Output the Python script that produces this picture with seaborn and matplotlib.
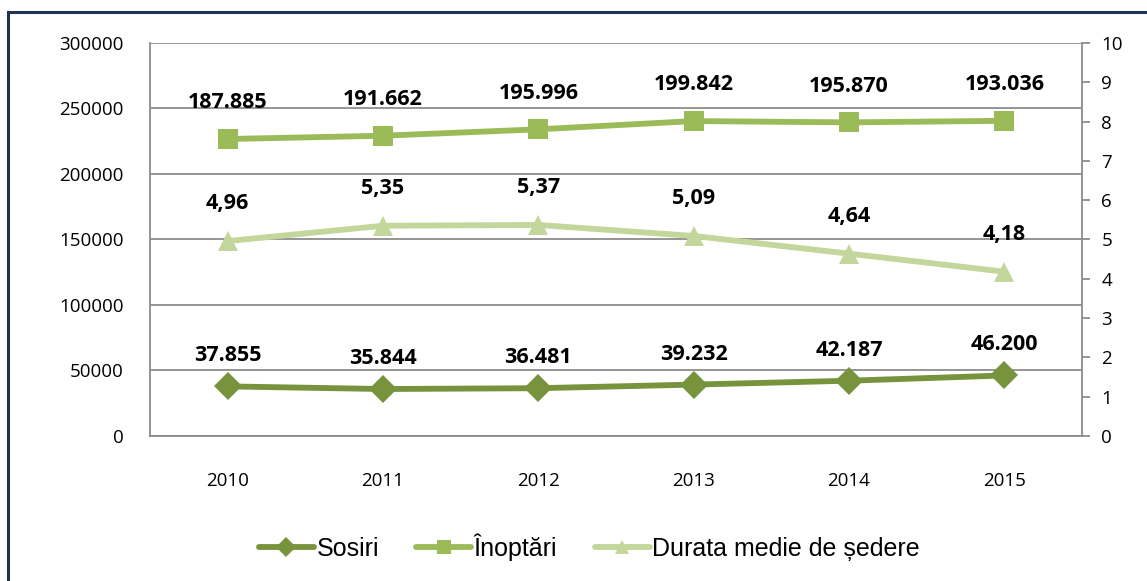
import seaborn as sns
import matplotlib.pyplot as plt
from matplotlib.patches import Rectangle

years = ['2010', '2011', '2012', '2013', '2014', '2015']
sosiri = [37855, 35844, 36481, 39232, 42187, 46200]
sosiri_labels = ['37.855', '35.844', '36.481', '39.232', '42.187', '46.200']
inoptari = [226700, 229200, 234100, 240400, 239400, 240600]
inoptari_labels = ['187.885', '191.662', '195.996', '199.842', '195.870', '193.036']
durata = [4.96, 5.35, 5.37, 5.09, 4.64, 4.18]
durata_labels = ['4,96', '5,35', '5,37', '5,09', '4,64', '4,18']

sns.set_style('white')
plt.rcParams['font.family'] = ['Open Sans', 'DejaVu Sans']
plt.rcParams['text.color'] = 'black'

c_sos = '#77933C'
c_ino = '#9BBB59'
c_dur = '#C3D69B'
grid_c = '#8C8C8C'

fig = plt.figure(figsize=(11.47, 5.81), dpi=100)
ax = fig.add_axes([0.1308, 0.2496, 0.8125, 0.6764])
ax2 = ax.twinx()

sns.lineplot(x=years, y=sosiri, ax=ax, color=c_sos, linewidth=4.2, marker='D',
             markersize=14, markeredgewidth=0, label='Sosiri', sort=False)
sns.lineplot(x=years, y=inoptari, ax=ax, color=c_ino, linewidth=4.2, marker='s',
             markersize=15, markeredgewidth=0, label='Înoptări', sort=False)
sns.lineplot(x=years, y=durata, ax=ax2, color=c_dur, linewidth=4.2, marker='^',
             markersize=15, markeredgewidth=0, label='Durata medie de ședere', sort=False)

ax.set_xlim(-0.5, 5.5)
ax.set_ylim(0, 300000)
ax.set_yticks(range(0, 300001, 50000))
ax2.set_ylim(0, 10)
ax2.set_yticks(range(0, 11))

ax.grid(axis='y', color=grid_c, linewidth=1.3)
ax.grid(axis='x', visible=False)
ax2.grid(False)

for a in (ax, ax2):
    for s in a.spines.values():
        s.set_visible(False)
ax.spines['left'].set_visible(True)
ax.spines['bottom'].set_visible(True)
ax2.spines['right'].set_visible(True)
for s in (ax.spines['left'], ax.spines['bottom'], ax2.spines['right']):
    s.set_color(grid_c)
    s.set_linewidth(1.3)

ax.tick_params(axis='y', length=0, pad=19, labelsize=13.5, labelcolor='black')
ax.tick_params(axis='x', length=0, pad=26, labelsize=13.5, labelcolor='black')
ax2.tick_params(axis='y', length=6, width=1.3, color=grid_c, pad=8, labelsize=13.5,
                labelcolor='black')
ax.set_xlabel('')
ax.set_ylabel('')
ax2.set_ylabel('')

lab_kw = dict(textcoords='offset points', ha='center', va='center',
              fontsize=15.5, fontweight='bold', color='black')
for i, y in enumerate(years):
    ax.annotate(inoptari_labels[i], (i, inoptari[i]), xytext=(0, 26), **lab_kw)
    ax.annotate(sosiri_labels[i], (i, sosiri[i]), xytext=(0, 22), **lab_kw)
    ax2.annotate(durata_labels[i], (i, durata[i]), xytext=(0, 27), **lab_kw)

h1, l1 = ax.get_legend_handles_labels()
h2, l2 = ax2.get_legend_handles_labels()
ax.get_legend().remove()
ax2.get_legend().remove()
fig.legend(h1 + h2, l1 + l2, loc='center', bbox_to_anchor=(0.514, 0.058), ncol=3,
           frameon=False, handlelength=2.2, handletextpad=0.1, columnspacing=1.5,
           markerscale=0.7,
           prop={'family': ['Liberation Sans', 'DejaVu Sans'], 'size': 18})

fig.patches.append(Rectangle((8 / 1147, -0.1), 1.2, (581 - 12) / 581 + 0.1,
                             transform=fig.transFigure, fill=False,
                             edgecolor='#1F3352', linewidth=2.2))

fig.savefig('out.png', dpi=100)
